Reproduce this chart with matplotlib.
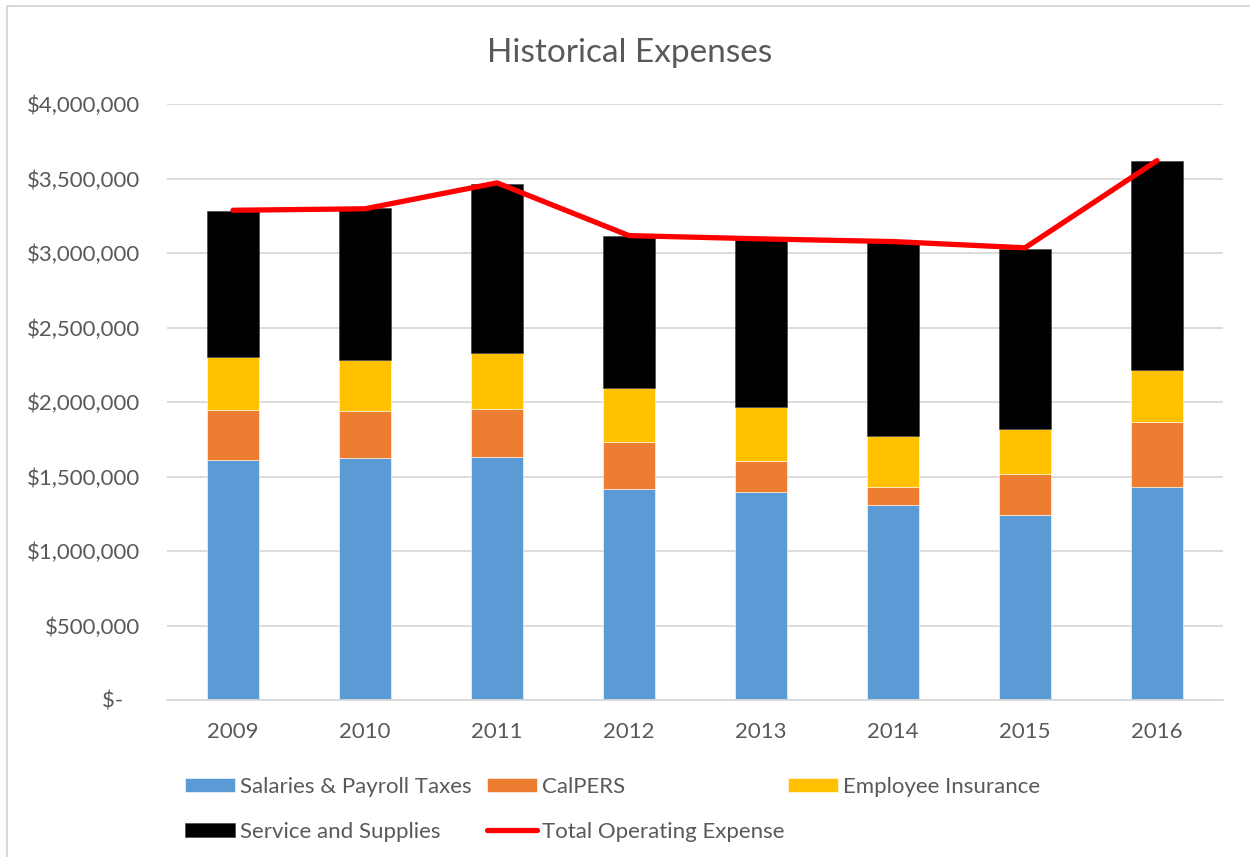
import matplotlib
matplotlib.use("Agg")
import matplotlib.pyplot as plt
from matplotlib.patches import Rectangle
from matplotlib.ticker import FuncFormatter
import numpy as np

years = ["2009", "2010", "2011", "2012", "2013", "2014", "2015", "2016"]
salaries = [1612000, 1621000, 1634000, 1417000, 1397000, 1310000, 1243000, 1428000]
calpers = [333000, 317000, 318000, 316000, 206000, 118000, 275000, 439000]
emp_insurance = [360000, 345000, 376000, 358000, 362000, 345000, 302000, 346000]
service_supplies = [980000, 1016000, 1138000, 1020000, 1125000, 1302000, 1210000, 1403000]
total_operating = [3287000, 3297000, 3471000, 3117000, 3095000, 3077000, 3035000, 3620000]

series_names = ["Salaries & Payroll Taxes", "CalPERS", "Employee Insurance", "Service and Supplies"]
series_colors = ["#5b9bd5", "#ed7d31", "#ffc000", "#000000"]
line_name = "Total Operating Expense"
title = "Historical Expenses"

plt.rcParams['font.family'] = ['Lato', 'DejaVu Sans']
text_color = "#595959"
fs = 16

fig = plt.figure(figsize=(12.5, 8.57), dpi=100)
# chart-area border (only top and left edges fall inside the image)
fig.patches.append(Rectangle((0.0056, -0.1), 1.2, 1.093, transform=fig.transFigure,
                             fill=False, edgecolor="#d9d9d9", linewidth=1.5))
ax = fig.add_axes([0.1336, 0.1832, 0.8448, 0.6954])

x = np.arange(len(years))
width = 0.4
bottom = np.zeros(len(years))
handles = []
for vals, name, color in zip([salaries, calpers, emp_insurance, service_supplies], series_names, series_colors):
    b = ax.bar(x, vals, width, bottom=bottom, color=color, label=name, zorder=2,
               edgecolor="#ffffff" if color != "#000000" else "#3a3a3a", linewidth=0.4)
    bottom += np.array(vals)
    handles.append(b)
ln, = ax.plot(x, total_operating, color="#ff0000", linewidth=3.8, solid_capstyle="round",
              solid_joinstyle="round", zorder=3, label=line_name)
handles.append(ln)

ax.set_xlim(-0.5, len(years) - 0.5)
ax.set_ylim(0, 4000000)
ax.set_yticks(np.arange(0, 4000001, 500000))
ax.yaxis.set_major_formatter(FuncFormatter(lambda v, p: "$-   " if v == 0 else f"${v:,.0f}"))
ax.set_xticks(x)
ax.set_xticklabels(years)
ax.grid(axis="y", color="#d9d9d9", linewidth=1.3, zorder=0)
ax.set_axisbelow(True)
for s in ["top", "right", "left"]:
    ax.spines[s].set_visible(False)
ax.spines["bottom"].set_color("#d9d9d9")
ax.spines["bottom"].set_linewidth(1.3)
ax.tick_params(axis="both", length=0, labelsize=fs, colors=text_color)
ax.tick_params(axis="x", pad=16)
ax.tick_params(axis="y", pad=19.5)

fig.text(0.504, 0.938, title, ha="center", va="center", fontsize=24, color=text_color)

# legend entries placed like the reference grid (3 columns, 2 rows)
legend_slots = [(0.148, 0.0817), (0.3896, 0.0817), (0.6304, 0.0817), (0.148, 0.0292), (0.3896, 0.0292)]
for h, (lx, ly) in zip(handles, legend_slots):
    fig.legend([h], [h.get_label()], loc="center left", bbox_to_anchor=(lx, ly),
               frameon=False, fontsize=fs, handlelength=2.25, handleheight=0.63,
               handletextpad=0.22, borderpad=0, borderaxespad=0, labelcolor=text_color)

fig.savefig("out.png", dpi=100)
